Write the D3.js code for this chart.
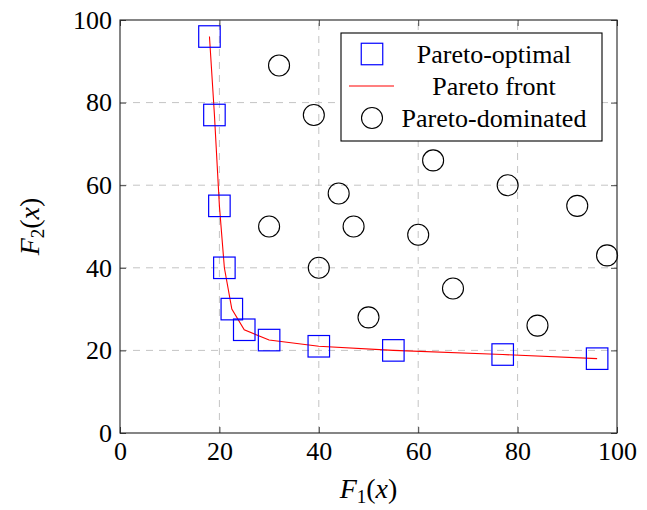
<!DOCTYPE html>
<html>
<head>
<meta charset="utf-8">
<script src="https://cdn.jsdelivr.net/npm/d3@7"></script>
<style>
    html, body { margin: 0; padding: 0; background: #fff; }
    svg { display: block; }
</style>
</head>
<body>
<div id="svgContainer"></div>
<script>
// values
const optimalF1 = [18, 19, 20, 21, 22.5, 25, 30, 40, 55, 77, 96];
const optimalF2 = [96, 77, 55, 40, 30, 25, 22.5, 21, 20, 19, 18];
const dominatedF1 = [32, 39, 44, 30, 47, 40, 50, 60, 63, 67, 78, 84, 92, 98];
const dominatedF2 = [89, 77, 58, 50, 50, 40, 28, 48, 66, 35, 60, 26, 55, 43];
const xTicks = [0, 20, 40, 60, 80, 100];
const yTicks = [0, 20, 40, 60, 80, 100];
const legendLabels = ["Pareto-optimal", "Pareto front", "Pareto-dominated"];

class ParetoView {

    constructor() {
        this._width = 647;
        this._height = 510;
        this._margin = { top: 20, right: 30, bottom: 77, left: 120 };
        this._font = "'Liberation Serif', 'Times New Roman', serif";
        this._SVG("svgContainer")
            ._scales()
            ._grid()
            ._marks()
            ._axes()
            ._legend();
    }

    _SVG(container) {
        this._svg = d3.select("#" + container).append("svg")
            .attr("width", this._width)
            .attr("height", this._height)
            .attr("viewBox", "0 0 " + this._width + " " + this._height);
        return this;
    }

    _scales() {
        const m = this._margin;
        this._x = d3.scaleLinear().domain([0, 100]).range([m.left, this._width - m.right]);
        this._y = d3.scaleLinear().domain([0, 100]).range([this._height - m.bottom, m.top]);
        return this;
    }

    _grid() {
        const x = this._x, y = this._y;
        const g = this._svg.append("g")
            .attr("stroke", "#c4c4c4")
            .attr("stroke-width", 1)
            .attr("stroke-dasharray", "7,6");

        g.selectAll("line.vx")
            .data(xTicks.slice(1, -1))
            .enter().append("line")
            .attr("x1", d => x(d)).attr("x2", d => x(d))
            .attr("y1", y(0)).attr("y2", y(100));

        g.selectAll("line.hy")
            .data(yTicks.slice(1, -1))
            .enter().append("line")
            .attr("x1", x(0)).attr("x2", x(100))
            .attr("y1", d => y(d)).attr("y2", d => y(d));
        return this;
    }

    _marks() {
        const x = this._x, y = this._y;
        const front = optimalF1.map((d, i) => [d, optimalF2[i]]);
        const dominated = dominatedF1.map((d, i) => [d, dominatedF2[i]]);
        const side = 21.5;

        this._svg.append("path")
            .datum(front)
            .attr("fill", "none")
            .attr("stroke", "#ff0000")
            .attr("stroke-width", 1.1)
            .attr("d", d3.line().x(d => x(d[0])).y(d => y(d[1])));

        this._svg.append("g")
            .selectAll("rect")
            .data(front)
            .enter().append("rect")
            .attr("x", d => x(d[0]) - side / 2)
            .attr("y", d => y(d[1]) - side / 2)
            .attr("width", side)
            .attr("height", side)
            .attr("fill", "none")
            .attr("stroke", "#0000ff")
            .attr("stroke-width", 1.2);

        this._svg.append("g")
            .selectAll("circle")
            .data(dominated)
            .enter().append("circle")
            .attr("cx", d => x(d[0]))
            .attr("cy", d => y(d[1]))
            .attr("r", 10.5)
            .attr("fill", "none")
            .attr("stroke", "#000")
            .attr("stroke-width", 1.1);
        return this;
    }

    _axes() {
        const x = this._x, y = this._y;
        const svg = this._svg;
        const tickStyle = g => {
            g.select(".domain").remove();
            g.selectAll(".tick line").attr("stroke", "#444").attr("stroke-width", 1);
            g.selectAll(".tick text")
                .attr("font-family", this._font)
                .attr("font-size", 26)
                .attr("fill", "#000");
        };

        svg.append("g")
            .attr("transform", "translate(0," + y(0) + ")")
            .call(d3.axisBottom(x).tickValues(xTicks).tickFormat(d3.format("d")).tickSize(-6).tickPadding(9))
            .call(tickStyle)
            .selectAll(".tick text").attr("dy", "0.71em");

        svg.append("g")
            .attr("transform", "translate(0," + y(100) + ")")
            .call(d3.axisTop(x).tickValues(xTicks).tickFormat("").tickSize(-6))
            .call(tickStyle);

        svg.append("g")
            .attr("transform", "translate(" + x(0) + ",0)")
            .call(d3.axisLeft(y).tickValues(yTicks).tickFormat(d3.format("d")).tickSize(-6).tickPadding(8))
            .call(tickStyle);

        svg.append("g")
            .attr("transform", "translate(" + x(100) + ",0)")
            .call(d3.axisRight(y).tickValues(yTicks).tickFormat("").tickSize(-6))
            .call(tickStyle);

        svg.append("rect")
            .attr("x", x(0)).attr("y", y(100))
            .attr("width", x(100) - x(0))
            .attr("height", y(0) - y(100))
            .attr("fill", "none")
            .attr("stroke", "#222")
            .attr("stroke-width", 1.1);

        // axis titles, math style
        const mathLabel = (sel, sub) => {
            sel.attr("text-anchor", "middle")
                .attr("font-family", this._font)
                .attr("font-size", 28);
            sel.append("tspan").attr("font-style", "italic").text("F");
            sel.append("tspan").attr("font-size", 19).attr("dy", 5).text(sub);
            sel.append("tspan").attr("dy", -5).text("(");
            sel.append("tspan").attr("font-style", "italic").text("x");
            sel.append("tspan").text(")");
        };

        svg.append("text")
            .attr("x", (x(0) + x(100)) / 2)
            .attr("y", 498)
            .call(mathLabel, "1");

        svg.append("text")
            .attr("transform", "translate(39," + (y(0) + y(100)) / 2 + ") rotate(-90)")
            .call(mathLabel, "2");
        return this;
    }

    _legend() {
        const box = { x: 341, y: 33, w: 261, h: 108 };
        const rowY = [54, 86, 118];
        const g = this._svg.append("g");

        g.append("rect")
            .attr("x", box.x).attr("y", box.y)
            .attr("width", box.w).attr("height", box.h)
            .attr("fill", "#fff")
            .attr("stroke", "#000")
            .attr("stroke-width", 1.1);

        g.append("rect")
            .attr("x", 372 - 10.75).attr("y", rowY[0] - 10.75)
            .attr("width", 21.5).attr("height", 21.5)
            .attr("fill", "none")
            .attr("stroke", "#0000ff")
            .attr("stroke-width", 1.2);

        g.append("line")
            .attr("x1", 349).attr("x2", 394)
            .attr("y1", rowY[1]).attr("y2", rowY[1])
            .attr("stroke", "#ff0000")
            .attr("stroke-width", 1.1);

        g.append("circle")
            .attr("cx", 372).attr("cy", rowY[2])
            .attr("r", 10.5)
            .attr("fill", "none")
            .attr("stroke", "#000")
            .attr("stroke-width", 1.1);

        g.selectAll("text")
            .data(legendLabels)
            .enter().append("text")
            .attr("x", 494)
            .attr("y", (d, i) => rowY[i])
            .attr("dy", "0.34em")
            .attr("text-anchor", "middle")
            .attr("font-family", this._font)
            .attr("font-size", 26)
            .text(d => d);
        return this;
    }
}

new ParetoView();
</script>
</body>
</html>
